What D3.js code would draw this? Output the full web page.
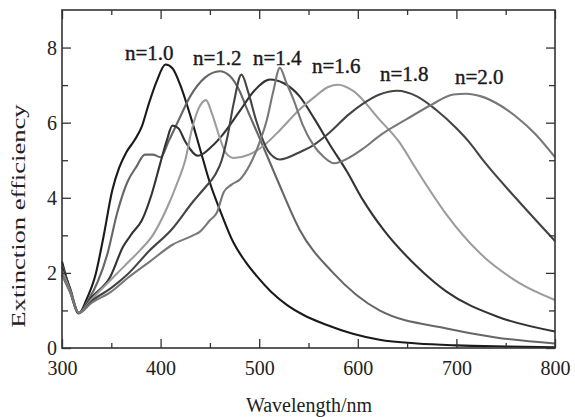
<!DOCTYPE html>
<html>
<head>
<meta charset="utf-8">
<script src="https://cdn.jsdelivr.net/npm/d3@7"></script>
<style>
  body { margin: 0; background: #fff; }
  svg { display: block; font-family: "Liberation Serif", "Times New Roman", serif; }
  .curve { fill: none; stroke-width: 2.1; stroke-linejoin: round; }
  .tick line { stroke: #333; stroke-width: 1.3; }
</style>
</head>
<body>
<div id="viz"></div>
<script>
// series labels (refractive index of medium)
var labels = ['n=1.0', 'n=1.2', 'n=1.4', 'n=1.6', 'n=1.8', 'n=2.0'];

// wavelength (nm) / extinction efficiency
var wl10 = [300, 308, 317, 325, 334, 342, 351, 358, 365, 374, 381, 388, 396, 405, 412, 420, 430, 440, 450, 462, 474, 486, 498, 512, 528, 545, 568, 595, 622, 660, 700, 750, 800];
var ext10 = [2.3, 1.55, 0.92, 1.3, 1.95, 2.95, 4.2, 4.8, 5.2, 5.55, 5.9, 6.5, 7.1, 7.55, 7.45, 7.0, 6.2, 5.3, 4.4, 3.55, 2.8, 2.3, 1.9, 1.5, 1.15, 0.88, 0.62, 0.38, 0.22, 0.12, 0.07, 0.04, 0.02];

var wl12 = [300, 308, 317, 326, 336, 346, 356, 366, 376, 384, 392, 400, 408, 418, 430, 445, 460, 470, 480, 487, 501, 518, 541, 575, 622, 690, 740, 800];
var ext12 = [2.2, 1.6, 0.93, 1.25, 1.75, 2.5, 3.6, 4.4, 4.85, 5.15, 5.15, 5.08, 5.5, 6.05, 6.7, 7.2, 7.37, 7.25, 6.85, 6.4, 5.55, 4.5, 3.15, 2.0, 1.0, 0.52, 0.28, 0.12];

var wl14 = [300, 308, 317, 330, 349, 362, 371, 381, 391, 400, 406, 412, 418, 425, 438, 452, 462, 480, 495, 511, 525, 541, 556, 572, 589, 605, 626, 660, 690, 741, 800];
var ext14 = [2.15, 1.6, 0.93, 1.35, 1.9, 2.7, 3.05, 3.4, 4.1, 4.95, 5.5, 5.92, 5.85, 5.5, 5.12, 5.37, 5.65, 6.3, 6.85, 7.15, 7.05, 6.7, 6.1, 5.4, 4.7, 3.95, 3.15, 2.17, 1.5, 0.84, 0.44];

var wl16 = [300, 308, 317, 330, 345, 364, 379, 392, 406, 417, 425, 432, 439, 446, 452, 460, 466, 474, 490, 505, 521, 541, 555, 570, 580, 595, 622, 643, 656, 673, 690, 724, 764, 800];
var ext16 = [2.05, 1.55, 0.93, 1.3, 1.7, 2.2, 2.6, 3.0, 3.7, 4.4, 5.0, 5.85, 6.4, 6.6, 6.25, 5.6, 5.2, 5.06, 5.15, 5.4, 5.8, 6.35, 6.66, 6.95, 7.01, 6.85, 6.08, 5.45, 4.9, 4.2, 3.55, 2.52, 1.73, 1.28];

var wl18 = [300, 308, 317, 330, 350, 366, 389, 411, 433, 446, 455, 462, 468, 474, 482, 489, 497, 509, 521, 540, 555, 572, 590, 605, 622, 640, 660, 679, 700, 714, 727, 760, 800];
var ext18 = [1.95, 1.5, 0.93, 1.25, 1.6, 1.95, 2.6, 3.15, 3.9, 4.3, 4.6, 5.0, 5.65, 6.5, 7.28, 6.8, 6.05, 5.25, 5.02, 5.2, 5.4, 5.75, 6.2, 6.5, 6.75, 6.85, 6.7, 6.35, 5.85, 5.45, 5.0, 4.0, 2.85];

var wl20 = [300, 308, 317, 330, 350, 366, 389, 412, 433, 440, 450, 457, 464, 472, 481, 490, 500, 508, 514, 521, 527, 535, 544, 555, 565, 576, 590, 605, 622, 650, 673, 697, 710, 725, 745, 761, 780, 800];
var ext20 = [1.95, 1.5, 0.93, 1.2, 1.5, 1.85, 2.3, 2.75, 3.0, 3.1, 3.4, 3.6, 4.15, 4.35, 4.5, 4.85, 5.45, 6.1, 6.8, 7.46, 7.1, 6.6, 5.95, 5.4, 5.1, 4.92, 5.05, 5.3, 5.65, 6.1, 6.45, 6.75, 6.77, 6.7, 6.45, 6.15, 5.7, 5.08];

var xTicks = [300, 400, 500, 600, 700, 800];
var yTicks = [0, 2, 4, 6, 8];

var seriesWl = [wl10, wl12, wl14, wl16, wl18, wl20];
var seriesExt = [ext10, ext12, ext14, ext16, ext18, ext20];

// styles
var colors = ['#1a1a1a', '#666666', '#333333', '#9c9c9c', '#444444', '#787878'];
var labelPos = [[125, 60], [193, 65], [253, 65], [312, 73], [380, 81], [455, 84]];
var serif = '"Liberation Serif", "Times New Roman", serif';

var W = 575, H = 417;
var margin = { top: 10, right: 20, bottom: 69, left: 62 };
var width = W - margin.left - margin.right,
  height = H - margin.top - margin.bottom;

var svg = d3.select('#viz').append('svg')
  .attr('width', W)
  .attr('height', H);

var chart = svg.append('g')
  .attr('transform', 'translate(' + margin.left + ',' + margin.top + ')');

var x = d3.scaleLinear().domain([300, 800]).range([0, width]);
var y = d3.scaleLinear().domain([0, 9]).range([height, 0]);

var line = d3.line()
  .x(function (d) { return x(d[0]); })
  .y(function (d) { return y(d[1]); })
  .curve(d3.curveMonotoneX);

seriesWl.forEach(function (wl, i) {
  var pts = wl.map(function (w, j) { return [w, seriesExt[i][j]]; });
  chart.append('path')
    .attr('class', 'curve')
    .attr('stroke', colors[i])
    .attr('d', line(pts));
});

// minor ticks
var xMinor = d3.range(350, 800, 100);
var yMinor = d3.range(1, 9, 2);

function noLabel(a) { return a.tickFormat(''); }

chart.append('g').attr('transform', 'translate(0,' + height + ')')
  .call(d3.axisBottom(x).tickValues(xTicks).tickSize(-9).tickPadding(13).tickFormat(d3.format('d')));
chart.append('g').attr('transform', 'translate(0,' + height + ')')
  .call(noLabel(d3.axisBottom(x).tickValues(xMinor).tickSize(-5)));
chart.append('g')
  .call(noLabel(d3.axisTop(x).tickValues(xTicks).tickSize(-9)));
chart.append('g')
  .call(noLabel(d3.axisTop(x).tickValues(xMinor).tickSize(-5)));

chart.append('g')
  .call(d3.axisLeft(y).tickValues(yTicks).tickSize(-9).tickPadding(5).tickFormat(d3.format('d')));
chart.append('g')
  .call(noLabel(d3.axisLeft(y).tickValues(yMinor).tickSize(-6)));
chart.append('g').attr('transform', 'translate(' + width + ',0)')
  .call(noLabel(d3.axisRight(y).tickValues(yTicks).tickSize(-9)));
chart.append('g').attr('transform', 'translate(' + width + ',0)')
  .call(noLabel(d3.axisRight(y).tickValues(yMinor).tickSize(-6)));

chart.selectAll('.domain').remove();
chart.selectAll('.tick text')
  .attr('font-family', serif)
  .attr('font-size', 20)
  .attr('fill', '#222')
  .each(function () {
    var t = d3.select(this);
    if (t.attr('x') !== null && +t.attr('x') < 0) t.attr('dy', '0.33em');
    else t.attr('dy', '0.71em');
  });

chart.append('rect')
  .attr('width', width)
  .attr('height', height)
  .attr('fill', 'none')
  .attr('stroke', '#333')
  .attr('stroke-width', 1.6);

// curve labels
labels.forEach(function (l, i) {
  svg.append('text')
    .attr('x', labelPos[i][0])
    .attr('y', labelPos[i][1])
    .attr('font-size', 21)
    .attr('fill', '#1a1a1a')
    .attr('stroke', '#1a1a1a')
    .attr('stroke-width', 0.4)
    .text(l);
});

svg.append('text')
  .attr('x', 309)
  .attr('y', 412)
  .attr('text-anchor', 'middle')
  .attr('font-size', 20)
  .attr('fill', '#222')
  .text('Wavelength/nm');

svg.append('text')
  .attr('transform', 'translate(25,216) rotate(-90) scale(1.4,1)')
  .attr('text-anchor', 'middle')
  .attr('font-size', 19)
  .attr('fill', '#222')
  .text('Extinction efficiency');
</script>
</body>
</html>
